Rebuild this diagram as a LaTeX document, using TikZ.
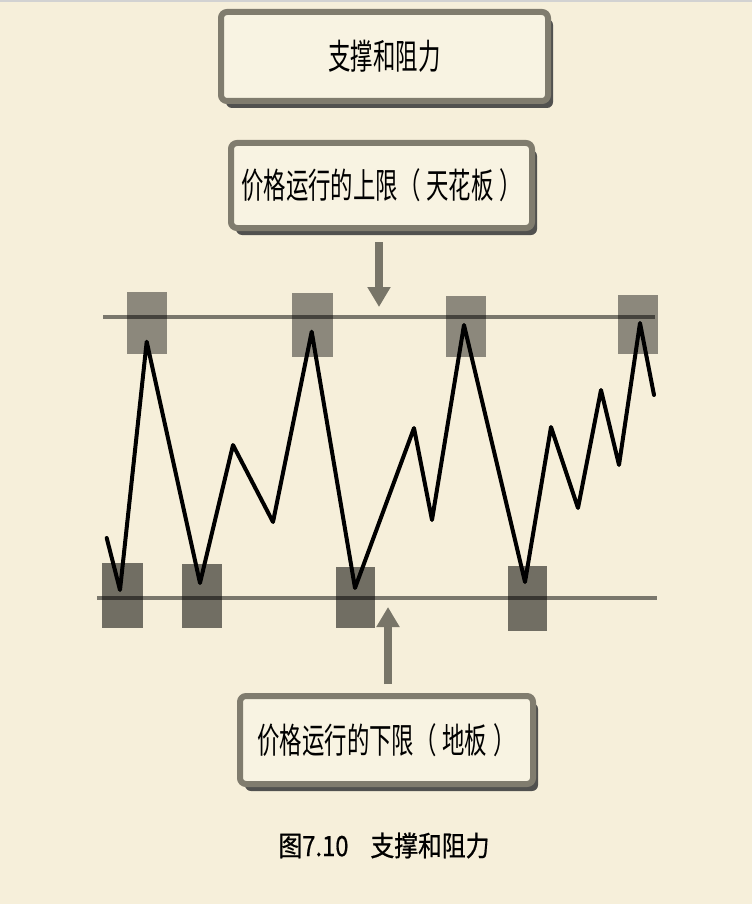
\documentclass[tikz,border=0pt]{standalone}
\usepackage{fontspec}
\newfontfamily\cjkn[FakeStretch=0.64]{Noto Sans CJK SC}
\newfontfamily\cjkc[FakeStretch=0.85,FakeBold=0.6]{Noto Sans CJK SC}
\usetikzlibrary{arrows.meta,shadows}
\definecolor{bg}{RGB}{246,239,218}
\definecolor{boxin}{RGB}{248,243,226}
\definecolor{boxedge}{RGB}{128,124,110}
\definecolor{topsq}{RGB}{140,136,124}
\definecolor{botsq}{RGB}{113,110,99}
\definecolor{arrowc}{RGB}{120,117,104}
\tikzset{
  labelbox/.style={draw=boxedge, line width=6pt, fill=boxin, rounded corners=6pt,
    drop shadow={shadow xshift=5pt, shadow yshift=-7pt, fill=black!75, opacity=0.9},
    font=\cjkn\fontsize{35}{37}\selectfont, inner sep=0pt},
  bigarrow/.style={draw=arrowc, line width=8pt, -{Triangle[width=22pt,length=20pt]}},
  level/.style={draw=black, opacity=0.5, line width=4pt},
  topbox/.style={fill=topsq},
  botbox/.style={fill=botsq},
  price/.style={draw=black, line width=4pt, line join=round, line cap=round}
}
\begin{document}
\begin{tikzpicture}[x=1pt,y=-1pt]
\useasboundingbox (0,0) rectangle (752,904);
\fill[bg] (0,0) rectangle (752,904);
\fill[gray!35] (0,0) rectangle (752,2);

% boxes
\node[labelbox, minimum width=327pt, minimum height=89pt] (title) at (384.5,56.5) {支撑和阻力};
\node[labelbox, minimum width=301pt, minimum height=85pt] (ceil) at (381.5,185.5) {价格运行的上限（\,天花板\,）};
\node[labelbox, minimum width=293pt, minimum height=88pt] (floor) at (386.5,740) {价格运行的下限（\,地板\,）};

% squares
\fill[topbox] (126.7,291.7) rectangle (166.7,354);
\fill[topbox] (291.7,293) rectangle (332.7,356.7);
\fill[topbox] (446,296) rectangle (486,356.7);
\fill[topbox] (618,294.7) rectangle (657.7,354);
\fill[botbox] (102,562.7) rectangle (143.3,627.7);
\fill[botbox] (182.3,564) rectangle (222.3,628);
\fill[botbox] (335.7,566.7) rectangle (375.3,628.3);
\fill[botbox] (508.3,565.7) rectangle (547.3,630.7);

% levels
\coordinate (tl) at (103,317);
\coordinate (tr) at (655,317);
\coordinate (bl) at (97,597.5);
\coordinate (br) at (657,597.5);
\draw[level] (tl) -- (tr);
\draw[level] (bl) -- (br);

% price path
\draw[price] (106.7,538) -- (120,590) -- (146.7,341.7) -- (200,583) -- (233,445)
  -- (273,522) -- (311.7,331.7) -- (355,588) -- (414,428) -- (432,520)
  -- (464,325) -- (525,582) -- (551,427) -- (578,508) -- (601,390)
  -- (619,465) -- (640,323) -- (654,395);

% arrows
\coordinate (a1s) at (379,242);
\coordinate (a1e) at (379,307);
\coordinate (a2s) at (388,684);
\coordinate (a2e) at (388,607);
\draw[bigarrow] (a1s) -- (a1e);
\draw[bigarrow] (a2s) -- (a2e);

% caption
\node[font=\cjkc\fontsize{28}{30}\selectfont, inner sep=0pt] (cap) at (384,845.5) {图7.10\hspace{22pt}支撑和阻力};
\end{tikzpicture}
\end{document}
